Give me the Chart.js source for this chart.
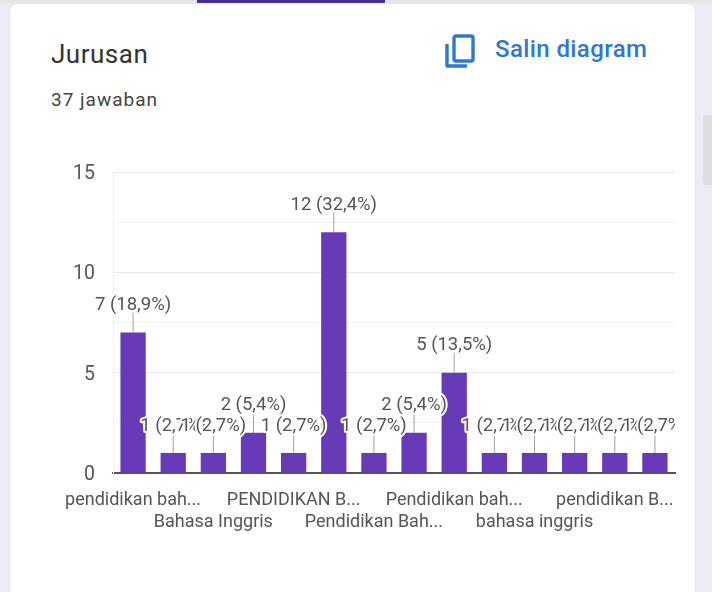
<!DOCTYPE html>
<html lang="id">
  <head>
    <meta charset="UTF-8" />
    <title>Jurusan</title>
    <script src="https://cdn.jsdelivr.net/npm/chart.js"></script>
    <style>
      html, body { margin: 0; padding: 0; width: 712px; height: 592px; overflow: hidden; background: #eeeaf6; font-family: Roboto, sans-serif; }
      #topline { position: absolute; left: 0; top: 0; width: 712px; height: 3px; background: #e6e6e6; }
      #tab { position: absolute; left: 197px; top: 0; width: 188px; height: 3px; background: #4a2a8c; }
      #card { position: absolute; left: 10px; top: 4px; width: 685px; height: 600px; background: #fff; border-radius: 8px; box-shadow: 0 0 2px #ddd; }
      #scroll { position: absolute; left: 703px; top: 115px; width: 9px; height: 70px; background: #dedde2; border-radius: 4px 0 0 4px; }
      #title { position: absolute; left: 51px; top: 39px; font-size: 26px; letter-spacing: 0.5px; color: #333; }
      #count { position: absolute; left: 51px; top: 88px; font-size: 19px; letter-spacing: 1px; color: #444; }
      #copy { position: absolute; left: 495px; top: 35px; font-size: 24px; font-weight: 500; letter-spacing: 0.4px; color: #2f78cc; }
      #icon { position: absolute; left: 445px; top: 34px; }
      #box { position: absolute; left: 60px; top: 155px; width: 630px; height: 385px; }
    </style>
  </head>
  <body>
    <div id="topline"></div>
    <div id="tab"></div>
    <div id="card"></div>
    <div id="scroll"></div>
    <div id="title">Jurusan</div>
    <div id="count">37 jawaban</div>
    <svg id="icon" width="30" height="36" viewBox="0 0 30 36">
      <path d="M2 10 V32 H22" fill="none" stroke="#2f78cc" stroke-width="3.4" stroke-linejoin="round" />
      <rect x="9" y="2" width="19" height="25" rx="2" fill="none" stroke="#2f78cc" stroke-width="3.4" />
    </svg>
    <div id="copy">Salin diagram</div>
    <div id="box"><canvas id="chart"></canvas></div>

    <script>
      const categories = [
        "pendidikan bah...", "", "Bahasa Inggris", "",
        "PENDIDIKAN B...", "", "Pendidikan Bah...", "",
        "Pendidikan bah...", "", "bahasa inggris", "",
        "pendidikan B...", "",
      ];
      const jawaban = [7, 1, 1, 2, 1, 12, 1, 2, 5, 1, 1, 1, 1, 1];
      const persen = [
        "18,9", "2,7", "2,7", "5,4", "2,7", "32,4", "2,7",
        "5,4", "13,5", "2,7", "2,7", "2,7", "2,7", "2,7",
      ];

      // leader line + label above each bar, later labels paint over earlier ones
      const barLabels = {
        id: "barLabels",
        afterDatasetsDraw(chart) {
          const ctx = chart.ctx;
          const area = chart.chartArea;
          const bars = chart.getDatasetMeta(0).data;
          ctx.save();
          ctx.beginPath();
          ctx.rect(0, 0, area.right, chart.height);
          ctx.clip();
          ctx.font = "18.5px Roboto";
          ctx.textAlign = "center";
          ctx.textBaseline = "middle";
          bars.forEach((bar, i) => {
            ctx.strokeStyle = "#a0a0a0";
            ctx.lineWidth = 1;
            ctx.beginPath();
            ctx.moveTo(bar.x, bar.y);
            ctx.lineTo(bar.x, bar.y - 20);
            ctx.stroke();
            const text = jawaban[i] + " (" + persen[i] + "%)";
            ctx.strokeStyle = "#fff";
            ctx.lineWidth = 4;
            ctx.lineJoin = "round";
            ctx.strokeText(text, bar.x, bar.y - 27);
            ctx.fillStyle = "#555";
            ctx.fillText(text, bar.x, bar.y - 27);
          });
          ctx.restore();
        },
      };

      new Chart(document.getElementById("chart"), {
        type: "bar",
        data: {
          labels: categories,
          datasets: [
            {
              data: jawaban,
              backgroundColor: "#673ab7",
              categoryPercentage: 1,
              barPercentage: 0.63,
            },
          ],
        },
        plugins: [barLabels],
        options: {
          animation: false,
          responsive: true,
          maintainAspectRatio: false,
          layout: { padding: { top: 17, right: 15 } },
          plugins: { legend: { display: false }, tooltip: { enabled: false } },
          scales: {
            x: {
              grid: { display: false },
              border: { color: "#555", width: 2 },
              afterFit(scale) {
                scale.height = 67;
                scale.paddingLeft = 0;
                scale.paddingRight = 0;
              },
              ticks: {
                autoSkip: false,
                maxRotation: 0,
                padding: 9,
                color: "#555",
                font: { family: "Roboto", size: 18, lineHeight: 1.22 },
                callback(value, i) {
                  const name = categories[i];
                  return i % 4 === 2 ? ["", name] : [name, ""];
                },
              },
            },
            y: {
              min: 0,
              max: 15,
              afterFit(scale) {
                scale.width = 53;
                scale.paddingTop = 0;
                scale.paddingBottom = 0;
              },
              afterBuildTicks(scale) {
                scale.ticks = [0, 2.5, 5, 7.5, 10, 12.5, 15].map((value) => ({ value }));
              },
              grid: {
                drawTicks: false,
                color(c) {
                  return c.tick.value % 5 === 0 ? "#e9e9e9" : "#f4f4f4";
                },
              },
              border: { color: "#eeeeee" },
              ticks: {
                padding: 18,
                color: "#555",
                // empty first line with a tiny line height nudges the number 2px down
                font: { family: "Roboto", size: 19.5, lineHeight: "4px" },
                callback(value) {
                  return value % 5 === 0 ? ["", value] : "";
                },
              },
            },
          },
        },
      });
    </script>
  </body>
</html>
